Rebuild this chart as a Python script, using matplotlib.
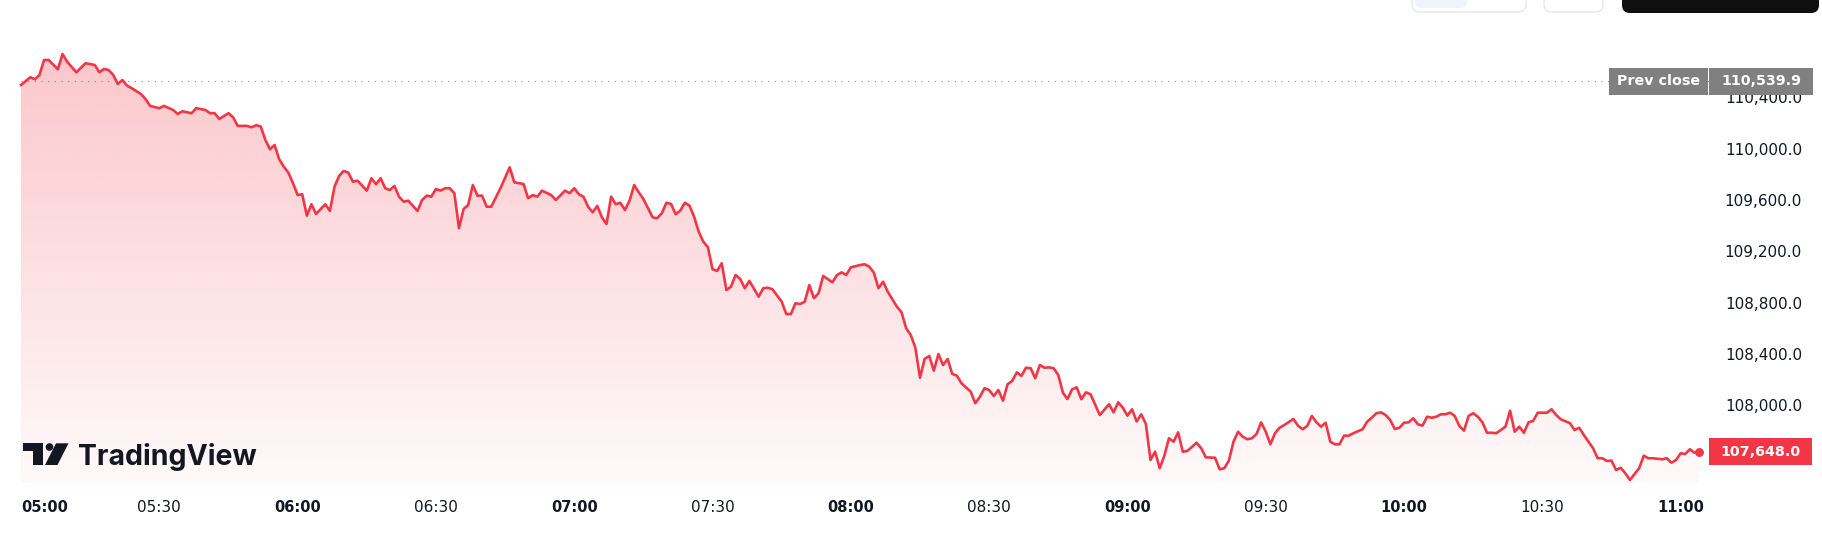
import numpy as np
import matplotlib
matplotlib.use("Agg")
import matplotlib.pyplot as plt
from matplotlib import transforms as mtransforms
from matplotlib.patches import Rectangle, FancyBboxPatch, Circle, Polygon

# ---------------- data (minutes after 05:00, price) ----------------
minutes = [0, 2, 3, 4, 5, 6, 8, 9, 10, 12, 14, 16, 17, 18, 19, 20, 21, 22, 23, 24,
           26, 27, 28, 30, 31, 33, 34, 35, 37, 38, 40, 41, 42, 43, 45, 46, 47, 49, 50, 51,
           52, 53, 54, 55, 56, 57, 58, 59, 60, 61, 62, 63, 64, 66, 67, 68, 69, 70, 71, 72,
           73, 75, 76, 77, 78, 79, 80, 81, 82, 83, 84, 86, 87, 88, 89, 90, 91, 92, 93, 94,
           95, 96, 97, 98, 99, 100, 101, 102, 104, 106, 107, 109, 110, 111, 112, 113, 115, 116, 118, 119,
           120, 121, 122, 123, 124, 125, 126, 127, 128, 129, 130, 131, 132, 133, 134, 135, 137, 138, 139, 140,
           141, 142, 143, 144, 145, 146, 147, 148, 149, 150, 151, 152, 153, 154, 155, 156, 157, 158, 160, 161,
           162, 163, 165, 166, 167, 168, 169, 170, 171, 172, 173, 174, 176, 177, 178, 179, 180, 182, 183, 184,
           185, 186, 187, 188, 190, 191, 192, 193, 194, 195, 196, 197, 198, 199, 200, 201, 202, 203, 204, 206,
           207, 208, 209, 210, 211, 212, 213, 214, 215, 216, 217, 218, 219, 220, 221, 222, 223, 224, 225, 226,
           227, 228, 229, 230, 231, 232, 234, 236, 237, 238, 239, 240, 241, 242, 243, 244, 245, 246, 247, 248,
           249, 250, 251, 252, 253, 255, 256, 257, 259, 260, 261, 262, 263, 264, 265, 266, 267, 268, 269, 270,
           271, 272, 273, 274, 276, 277, 278, 279, 280, 281, 282, 283, 284, 285, 286, 287, 288, 289, 291, 292,
           293, 294, 295, 296, 297, 298, 299, 300, 301, 302, 303, 304, 305, 306, 307, 308, 309, 310, 311, 312,
           313, 314, 315, 316, 317, 318, 319, 320, 321, 322, 323, 324, 325, 326, 327, 328, 329, 331, 332, 333,
           334, 336, 337, 338, 339, 341, 342, 343, 344, 345, 346, 347, 348, 349, 350, 351, 352, 353, 354, 356,
           357, 358, 359, 360, 361, 362, 363, 364]
prices = [110509, 110569, 110554, 110587, 110704, 110704, 110632, 110751, 110691, 110608,
          110679, 110665, 110608, 110634, 110626, 110587, 110517, 110548, 110504, 110484,
          110439, 110400, 110346, 110328, 110346, 110314, 110283, 110304, 110289, 110328,
          110314, 110289, 110289, 110244, 110289, 110257, 110190, 110190, 110179, 110195,
          110185, 110080, 110008, 110041, 109930, 109872, 109825, 109743, 109651, 109657,
          109490, 109579, 109503, 109579, 109527, 109716, 109800, 109839, 109825, 109755,
          109763, 109685, 109782, 109735, 109782, 109704, 109690, 109722, 109638, 109599,
          109607, 109527, 109612, 109646, 109638, 109698, 109685, 109704, 109704, 109665,
          109392, 109542, 109573, 109729, 109646, 109646, 109560, 109560, 109704, 109867,
          109750, 109737, 109626, 109651, 109638, 109685, 109651, 109612, 109685, 109665,
          109704, 109657, 109638, 109560, 109516, 109566, 109477, 109425, 109638, 109579,
          109591, 109534, 109607, 109729, 109672, 109620, 109477, 109470, 109509, 109591,
          109581, 109501, 109529, 109591, 109568, 109482, 109365, 109287, 109243, 109072,
          109059, 109119, 108910, 108936, 109027, 108996, 108924, 108981, 108858, 108924,
          108928, 108916, 108819, 108723, 108723, 108807, 108801, 108819, 108949, 108846,
          108885, 109020, 108970, 109027, 109048, 109027, 109087, 109105, 109111, 109092,
          109045, 108924, 108975, 108897, 108780, 108736, 108612, 108559, 108460, 108226,
          108372, 108396, 108281, 108411, 108325, 108372, 108255, 108242, 108183, 108117,
          108027, 108078, 108144, 108130, 108084, 108130, 108047, 108175, 108201, 108268,
          108240, 108304, 108300, 108222, 108325, 108304, 108307, 108300, 108247, 108109,
          108060, 108136, 108151, 108058, 108112, 108097, 107935, 108019, 107956, 108034,
          107992, 107930, 107980, 107885, 107941, 107865, 107584, 107649, 107520, 107616,
          107754, 107727, 107800, 107649, 107655, 107719, 107676, 107605, 107602, 107512,
          107520, 107579, 107727, 107805, 107766, 107746, 107754, 107787, 107878, 107805,
          107707, 107793, 107836, 107857, 107904, 107852, 107824, 107850, 107928, 107878,
          107844, 107875, 107727, 107707, 107707, 107774, 107774, 107793, 107824, 107883,
          107914, 107949, 107956, 107935, 107896, 107826, 107836, 107875, 107878, 107910,
          107863, 107852, 107922, 107914, 107922, 107941, 107941, 107953, 107928, 107850,
          107813, 107928, 107949, 107922, 107878, 107797, 107797, 107793, 107818, 107844,
          107969, 107805, 107844, 107797, 107878, 107889, 107953, 107953, 107980, 107935,
          107902, 107871, 107818, 107836, 107779, 107676, 107598, 107598, 107577, 107579,
          107506, 107524, 107481, 107428, 107475, 107520, 107618, 107598, 107598, 107590,
          107598, 107563, 107584, 107637, 107631, 107668, 107641, 107648]

prev_close = 110539.9
last_price = 107648.0

time_tick_minutes = [0, 30, 60, 90, 120, 150, 180, 210, 240, 270, 300, 330, 360]
time_tick_labels = ["05:00", "05:30", "06:00", "06:30", "07:00", "07:30", "08:00",
                    "08:30", "09:00", "09:30", "10:00", "10:30", "11:00"]
price_ticks = [108000, 108400, 108800, 109200, 109600, 110000, 110400]

# ---------------- style ----------------
RED = "#F23645"
TEXT = "#131722"
GRAY = "#808080"
W, H = 1822, 553

fig = plt.figure(figsize=(W / 100, H / 100), dpi=100)
fig.patch.set_facecolor("white")

# pixel (from top-left) -> figure transform, for decorations
pxT = mtransforms.Affine2D().scale(1 / W, -1 / H).translate(0, 1) + fig.transFigure

ax_l, ax_r, ax_t, ax_b = 0, 1712, 15, 483
ax = fig.add_axes([ax_l / W, 1 - ax_b / H, (ax_r - ax_l) / W, (ax_b - ax_t) / H])
ax.set_facecolor("none")
for s in ax.spines.values():
    s.set_visible(False)

xlim = (-4.56, 366.8)
ylim = (107405, 111055)

t = np.array(minutes, dtype=float)
p = np.array(prices, dtype=float)

# gradient area fill
poly = ax.fill_between(t, p, ylim[0], facecolor="none", edgecolor="none")
n = 256
rgba = np.zeros((n, 1, 4))
rgba[..., :3] = matplotlib.colors.to_rgb(RED)
rgba[:, 0, 3] = np.linspace(0.28, 0.03, n)
im = ax.imshow(rgba, extent=[t[0], t[-1], ylim[0], p.max()], aspect="auto",
               origin="upper", zorder=1, interpolation="bilinear")
im.set_clip_path(poly.get_paths()[0], transform=ax.transData)

# line and last point
ax.plot(t, p, color=RED, lw=1.9, zorder=3, solid_joinstyle="round")
ax.plot([t[-1]], [p[-1]], "o", color=RED, ms=5.4, zorder=4)

# prev close dotted line
ax.hlines(prev_close, t[0], xlim[1], colors="#8a8a8a", lw=0.8,
          linestyles=(0, (1, 5)), zorder=2)

ax.set_xlim(*xlim)
ax.set_ylim(*ylim)

# x ticks
ax.set_xticks(time_tick_minutes)
ax.set_xticklabels(time_tick_labels)
ax.tick_params(axis="x", length=0, pad=12.5, colors=TEXT, labelsize=11)
for lbl, m in zip(ax.get_xticklabels(), time_tick_minutes):
    lbl.set_color(TEXT)
    if m % 60 == 0:
        lbl.set_fontweight("bold")
        lbl.set_fontsize(10.5)
ax.get_xticklabels()[0].set_ha("left")

# y ticks on right
ax.yaxis.tick_right()
ax.set_yticks(price_ticks)
ax.set_yticklabels([f"{v:,.1f}" for v in price_ticks])
ax.tick_params(axis="y", length=0, pad=64.8, labelsize=11, colors=TEXT)
for lbl in ax.get_yticklabels():
    lbl.set_ha("right")
    lbl.set_va("center")

# price labels (boxes)
data_per_px = (ylim[1] - ylim[0]) / (ax_b - ax_t)
bT = mtransforms.blended_transform_factory(pxT, ax.transData)
box_h = 27 * data_per_px

ax.add_patch(Rectangle((1609, prev_close - box_h / 2), 99, box_h, transform=bT,
                       facecolor=GRAY, edgecolor="none", clip_on=False, zorder=6))
ax.add_patch(Rectangle((1709, prev_close - box_h / 2), 104, box_h, transform=bT,
                       facecolor=GRAY, edgecolor="none", clip_on=False, zorder=6))
ax.text(1658.5, prev_close, "Prev close", transform=bT, color="white", fontsize=10.3,
        fontweight="bold", ha="center", va="center", zorder=7, clip_on=False)
ax.text(1761, prev_close, f"{prev_close:,.1f}", transform=bT, color="white", fontsize=10.3,
        fontweight="bold", ha="center", va="center", zorder=7, clip_on=False)

ax.add_patch(Rectangle((1709, last_price - box_h / 2), 103, box_h, transform=bT,
                       facecolor=RED, edgecolor="none", clip_on=False, zorder=6))
ax.text(1760.5, last_price, f"{last_price:,.1f}", transform=bT, color="white", fontsize=10.3,
        fontweight="bold", ha="center", va="center", zorder=7, clip_on=False)

# TradingView logo
logo_color = "#131722"
fig.add_artist(Polygon([(22.7, 443.3), (43.3, 443.3), (43.3, 465), (33.3, 465), (33.3, 450.7), (22.7, 450.7)],
                       closed=True, transform=pxT, facecolor=logo_color, edgecolor="none"))
fig.add_artist(Circle((49.5, 447), 3.8, transform=pxT, facecolor=logo_color, edgecolor="none"))
fig.add_artist(Polygon([(56, 443.3), (68.5, 443.3), (57.5, 465), (45, 465)],
                       closed=True, transform=pxT, facecolor=logo_color, edgecolor="none"))
fig.text(78 / W, 1 - 465 / H, "TradingView", fontsize=20.5, fontweight="bold",
         family=["Inter", "DejaVu Sans"], color=logo_color, ha="left", va="baseline")

# top buttons (partially visible)
fig.add_artist(FancyBboxPatch((1412, -30), 114, 42, boxstyle="round,pad=0,rounding_size=8",
                              transform=pxT, facecolor="white", edgecolor="#e0e3eb", lw=0.8))
fig.add_artist(FancyBboxPatch((1415, -30), 52, 38, boxstyle="round,pad=0,rounding_size=7",
                              transform=pxT, facecolor="#f0f3fa", edgecolor="none"))
fig.add_artist(FancyBboxPatch((1544, -30), 59, 42, boxstyle="round,pad=0,rounding_size=8",
                              transform=pxT, facecolor="white", edgecolor="#e0e3eb", lw=0.8))
fig.add_artist(FancyBboxPatch((1622, -30), 197, 43, boxstyle="round,pad=0,rounding_size=8",
                              transform=pxT, facecolor="#0f0f0f", edgecolor="none"))

fig.savefig("out.png", dpi=100, facecolor="white")
